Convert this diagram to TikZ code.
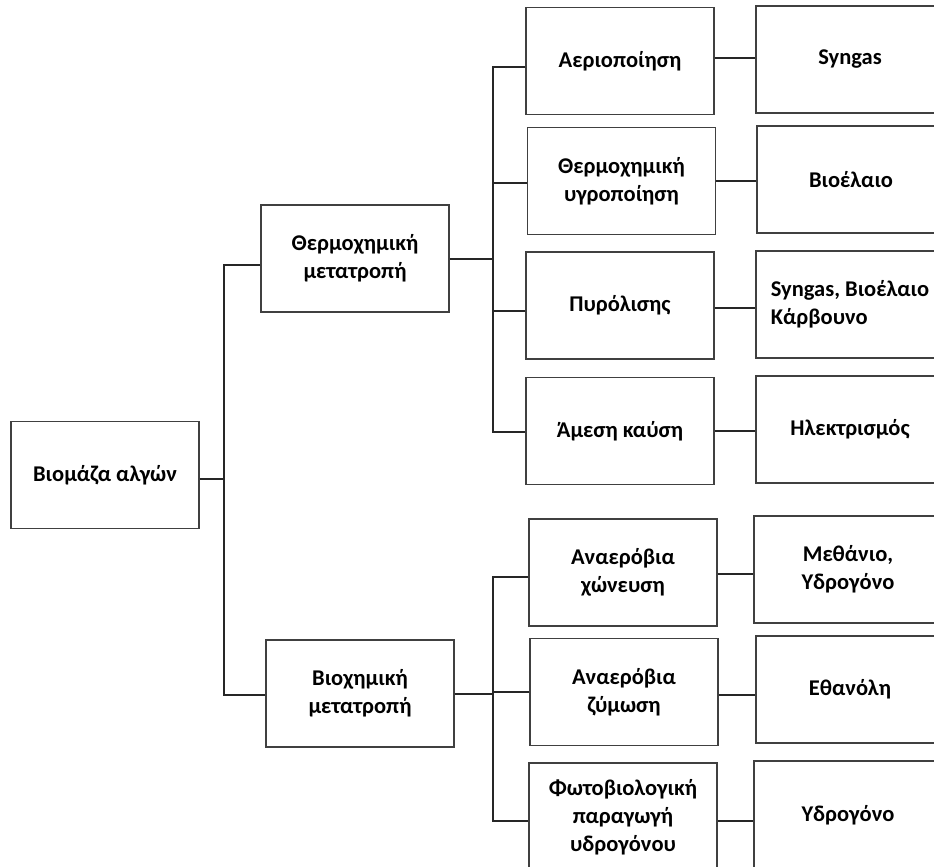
\documentclass[tikz,border=0pt]{standalone}
\usepackage{fontspec}
\setmainfont{Carlito}
\usepackage{tikz}
\tikzset{
  box/.style={draw=black!75, line width=1.3pt, align=center, font=\fontsize{22.5}{28}\selectfont\bfseries, minimum width=188pt, minimum height=107pt, inner sep=2pt},
  res/.style={box},
  link/.style={black!85, line width=1.2pt},
}

\begin{document}
\begin{tikzpicture}[x=1pt, y=-1pt]
  \useasboundingbox (0,0) rectangle (934,867);
  \clip (0,0) rectangle (934,867);
  \node[box] (root) at (105,475) {Βιομάζα αλγών};
  \node[box] (thermo) at (355,258.5) {Θερμοχημική\\μετατροπή};
  \node[box] (bio) at (360,693.5) {Βιοχημική\\μετατροπή};
  \node[box] (aer) at (620,61) {Αεριοποίηση};
  \node[box] (liq) at (621.5,181) {Θερμοχημική\\υγροποίηση};
  \node[box] (pyro) at (620,305.5) {Πυρόλισης};
  \node[box] (comb) at (620,431) {Άμεση καύση};
  \node[box] (dig) at (623,572.5) {Αναερόβια\\χώνευση};
  \node[box] (ferm) at (624,692) {Αναερόβια\\ζύμωση};
  \node[box, minimum height=108pt] (photo) at (623,817) {Φωτοβιολογική\\παραγωγή\\υδρογόνου};
  \node[res] (syngas) at (850,59.5) {Syngas};
  \node[res] (oil) at (851,179.5) {Βιοέλαιο};
  \node[res, align=left] (mix) at (850,304.5) {Syngas, Βιοέλαιο\\Κάρβουνο};
  \node[res] (elec) at (850,429.5) {Ηλεκτρισμός};
  \node[res] (meth) at (848,569.5) {Μεθάνιο,\\Υδρογόνο};
  \node[res] (eth) at (850,689.5) {Εθανόλη};
  \node[res, minimum height=108pt] (hyd) at (848,815) {Υδρογόνο};
  \coordinate (s1) at (224,479);
  \coordinate (s2) at (493,259);
  \coordinate (s3) at (493,694);
  \draw[link] (root.east |- s1) -- (s1);
  \draw[link] ([yshift=-6.5pt]thermo.west) -| (s1) |- ([yshift=-1.5pt]bio.west);
  \draw[link] (thermo.east |- s2) -- (s2);
  \draw[link] ([yshift=-6pt]aer.west) -| (s2) |- ([yshift=-1pt]comb.west);
  \draw[link] ([yshift=-2pt]liq.west) -- ([yshift=-2pt]liq.west -| s2);
  \draw[link] ([yshift=-5.5pt]pyro.west) -- ([yshift=-5.5pt]pyro.west -| s2);
  \draw[link] (bio.east |- s3) -- (s3);
  \draw[link] ([yshift=-4.5pt]dig.west) -| (s3) |- ([yshift=-4pt]photo.west);
  \draw[link] (ferm.west) -- (ferm.west -| s3);
  \draw[link] ([yshift=3pt]aer.east) -- ([yshift=3pt]aer.east -| syngas.west);
  \draw[link] (liq.east) -- (liq.east -| oil.west);
  \draw[link] ([yshift=-2.5pt]pyro.east) -- ([yshift=-2.5pt]pyro.east -| mix.west);
  \draw[link] (comb.east) -- (comb.east -| elec.west);
  \draw[link] ([yshift=-1.5pt]dig.east) -- ([yshift=-1.5pt]dig.east -| meth.west);
  \draw[link] ([yshift=-3pt]ferm.east) -- ([yshift=-3pt]ferm.east -| eth.west);
  \draw[link] ([yshift=-4pt]photo.east) -- ([yshift=-4pt]photo.east -| hyd.west);
\end{tikzpicture}
\end{document}
